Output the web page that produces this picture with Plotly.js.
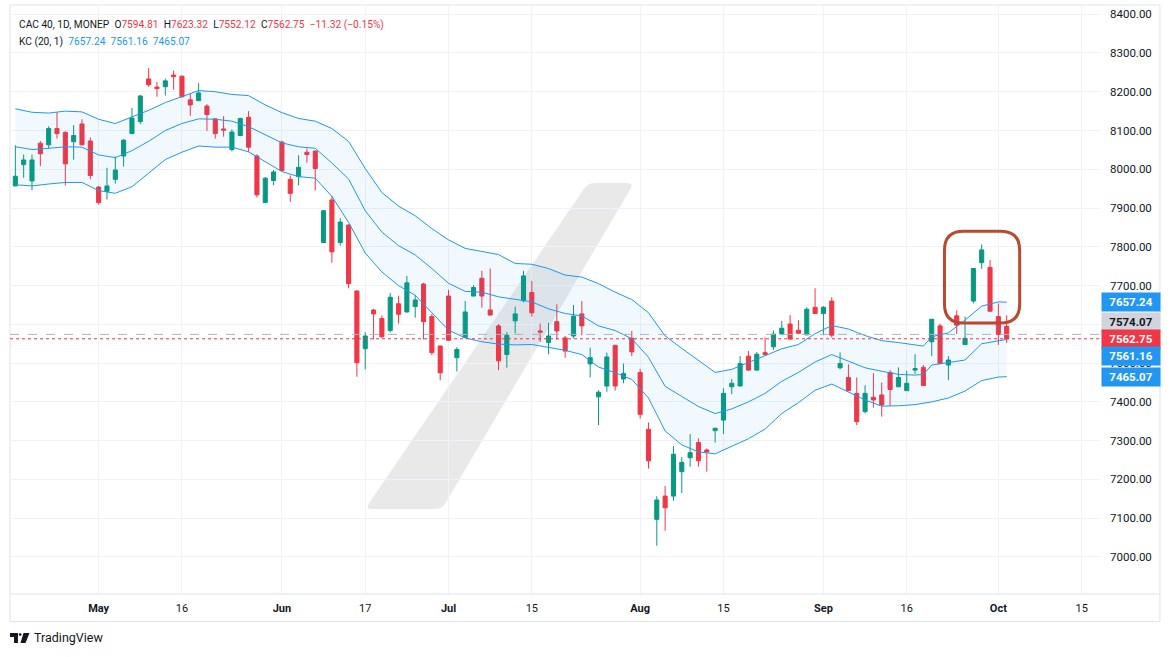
<!DOCTYPE html>
<html>
<head>
<meta charset="utf-8">
<script src="https://cdn.plot.ly/plotly-3.0.1.min.js"></script>
<style>
  html, body { margin: 0; padding: 0; background: #fff; }
  #chart { width: 1171px; height: 657px; }
</style>
</head>
<body>
<div id="chart"></div>
<script>
// CAC 40 daily, 17 Apr - 2 Oct 2024 (trading days only)
var dates = [
  '2024-04-17','2024-04-18','2024-04-19','2024-04-22','2024-04-23','2024-04-24','2024-04-25','2024-04-26','2024-04-29','2024-04-30',
  '2024-05-02','2024-05-03','2024-05-06','2024-05-07','2024-05-08','2024-05-09','2024-05-10','2024-05-13','2024-05-14','2024-05-15',
  '2024-05-16','2024-05-17','2024-05-20','2024-05-21','2024-05-22','2024-05-23','2024-05-24','2024-05-27','2024-05-28','2024-05-29',
  '2024-05-30','2024-05-31','2024-06-03','2024-06-04','2024-06-05','2024-06-06','2024-06-07','2024-06-10','2024-06-11','2024-06-12',
  '2024-06-13','2024-06-14','2024-06-17','2024-06-18','2024-06-19','2024-06-20','2024-06-21','2024-06-24','2024-06-25','2024-06-26',
  '2024-06-27','2024-06-28','2024-07-01','2024-07-02','2024-07-03','2024-07-04','2024-07-05','2024-07-08','2024-07-09','2024-07-10',
  '2024-07-11','2024-07-12','2024-07-15','2024-07-16','2024-07-17','2024-07-18','2024-07-19','2024-07-22','2024-07-23','2024-07-24',
  '2024-07-25','2024-07-26','2024-07-29','2024-07-30','2024-07-31','2024-08-01','2024-08-02','2024-08-05','2024-08-06','2024-08-07',
  '2024-08-08','2024-08-09','2024-08-12','2024-08-13','2024-08-14','2024-08-15','2024-08-16','2024-08-19','2024-08-20','2024-08-21',
  '2024-08-22','2024-08-23','2024-08-26','2024-08-27','2024-08-28','2024-08-29','2024-08-30','2024-09-02','2024-09-03','2024-09-04',
  '2024-09-05','2024-09-06','2024-09-09','2024-09-10','2024-09-11','2024-09-12','2024-09-13','2024-09-16','2024-09-17','2024-09-18',
  '2024-09-19','2024-09-20','2024-09-23','2024-09-24','2024-09-25','2024-09-26','2024-09-27','2024-09-30','2024-10-01','2024-10-02'
];

var open = [
  7957,8012,7970,8067,8063,8105,8095,8071,8117,8073,
  7954,7943,7974,8034,8092,8123,8233,8212,8213,8243,
  8240,8179,8177,8163,8130,8104,8051,8087,8134,8034,
  7914,7971,8070,7974,7981,8044,8047,7811,7921,7811,
  7856,7686,7537,7637,7615,7584,7653,7632,7646,7704,
  7620,7544,7673,7514,7566,7673,7719,7637,7596,7522,
  7609,7661,7682,7583,7553,7607,7565,7570,7627,7498,
  7413,7441,7546,7459,7564,7476,7329,7097,7157,7157,
  7220,7256,7295,7276,7326,7353,7439,7441,7518,7482,
  7527,7542,7575,7601,7585,7573,7644,7628,7660,7488,
  7463,7422,7375,7412,7418,7476,7439,7429,7482,7489,
  7555,7596,7495,7622,7548,7660,7759,7747,7620,7594.81
];
var high = [
  8062,8038,8038,8073,8111,8147,8098,8114,8129,8082,
  7957,8004,8033,8078,8158,8192,8261,8225,8234,8254,
  8242,8195,8222,8168,8131,8137,8103,8133,8150,8039,
  7980,7998,8074,7984,8036,8054,8048,7895,7931,7874,
  7858,7688,7580,7640,7623,7681,7674,7725,7676,7707,
  7627,7545,7689,7541,7660,7701,7738,7744,7601,7580,
  7646,7738,7712,7602,7604,7652,7570,7650,7660,7540,
  7430,7527,7547,7499,7583,7485,7347,7157,7183,7286,
  7258,7317,7306,7280,7333,7435,7459,7518,7531,7529,
  7566,7584,7609,7624,7611,7644,7693,7647,7670,7528,
  7497,7463,7443,7474,7450,7482,7489,7480,7523,7495,
  7614,7602,7518,7636,7620,7745,7806,7766,7654,7623.32
];
var low = [
  7957,7978,7946,8008,8053,8079,7958,8025,8062,7974,
  7909,7922,7963,8007,8092,8116,8213,8187,8190,8205,
  8185,8138,8177,8099,8079,8084,8046,8085,8044,7927,
  7914,7959,7995,7916,7959,8017,7945,7810,7759,7803,
  7693,7465,7484,7561,7565,7579,7602,7630,7617,7561,
  7521,7456,7558,7478,7565,7672,7643,7623,7482,7488,
  7577,7657,7620,7555,7523,7560,7514,7564,7572,7463,
  7340,7426,7429,7448,7518,7357,7228,7029,7068,7145,
  7165,7233,7233,7220,7295,7317,7420,7440,7480,7481,
  7521,7534,7574,7561,7576,7572,7627,7572,7566,7484,
  7428,7340,7370,7385,7362,7389,7438,7428,7472,7441,
  7518,7498,7456,7575,7547,7654,7743,7632,7547,7552.12
];
var close = [
  7982,8024,8024,8040,8105,8092,8014,8087,8063,7984,
  7914,7957,7998,8075,8132,8189,8218,8208,8228,8239,
  8187,8166,8197,8141,8092,8101,8096,8131,8057,7934,
  7977,7993,7997,7938,8005,8038,8002,7893,7787,7864,
  7705,7501,7570,7627,7568,7670,7626,7707,7663,7607,
  7527,7475,7559,7535,7632,7695,7673,7624,7506,7572,
  7627,7725,7630,7580,7570,7583,7531,7621,7596,7514,
  7425,7516,7441,7473,7529,7368,7248,7147,7127,7265,
  7244,7269,7248,7271,7332,7422,7448,7499,7482,7523,
  7522,7575,7590,7562,7577,7639,7628,7644,7572,7499,
  7429,7349,7422,7405,7392,7432,7463,7448,7486,7442,
  7613,7499,7508,7598,7564,7744,7792,7634,7574.07,7562.75
];

// Keltner channel (20, 1) read at every second bar
var kcIdx = [0,2,4,6,8,10,12,14,16,18,20,22,24,26,28,30,32,34,36,38,40,42,44,46,48,50,52,54,56,58,
  60,62,64,66,68,70,72,74,76,78,80,82,84,86,88,90,92,94,96,98,100,102,104,106,108,109,110,112,114,116,118,119];
var kcUpper = [8156,8147,8145,8150,8148,8129,8118,8135,8152,8172,8188,8203,8200,8193,8190,8166,8146,8131,8124,8105,
  8072,8002,7940,7905,7880,7847,7818,7796,7788,7780,7757,7755,7744,7727,7722,7705,7683,7664,7630,7570,
  7538,7506,7476,7484,7501,7520,7537,7548,7576,7597,7588,7571,7558,7553,7546,7544,7568,7578,7611,7647,7658,7657.24];
var kcMid = [8058,8051,8054,8058,8057,8037,8030,8048,8072,8100,8118,8130,8129,8124,8110,8088,8068,8058,8054,8016,
  7975,7893,7838,7803,7779,7744,7706,7685,7683,7671,7664,7658,7640,7628,7622,7596,7584,7563,7515,7440,
  7414,7388,7370,7382,7400,7422,7453,7476,7503,7522,7505,7488,7479,7471,7469,7471,7495,7501,7508,7550,7558,7561.16];
var kcLower = [7960,7957,7962,7966,7966,7945,7938,7955,7990,8025,8044,8060,8057,8057,8045,8020,7994,7981,7977,7930,
  7863,7784,7735,7700,7675,7630,7585,7565,7555,7549,7547,7548,7540,7533,7522,7490,7475,7458,7410,7325,
  7289,7271,7266,7285,7305,7330,7370,7398,7430,7446,7426,7405,7389,7390,7393,7396,7400,7410,7428,7455,7464,7465.07];

var tickDates = ['2024-05-02','2024-05-16','2024-06-03','2024-06-17','2024-07-01','2024-07-15',
  '2024-08-01','2024-08-15','2024-09-02','2024-09-16','2024-10-01','2024-10-15'];
var tickLabels = ['<b>May</b>','16','<b>Jun</b>','17','<b>Jul</b>','15','<b>Aug</b>','15','<b>Sep</b>','16','<b>Oct</b>','15'];

var GREEN = '#089981', RED = '#F23645', BLUE = '#2196F3', TXT = '#131722';
var FONT = 'Roboto, Arial, sans-serif';

var kcX = kcIdx.map(function (i) { return dates[i]; });
var n = close.length;
var last = n - 1;
var prevClose = close[last - 1];
var chg = close[last] - prevClose;
var chgPct = chg / prevClose * 100;

// pixel -> paper helpers for decorations (plot area 10..1100 x 5..594)
function pxX(x) { return ((x - 10) / 1090).toFixed(4); }
function pxY(y) { return ((594 - y) / 589).toFixed(4); }
// closed polygon with rounded corners, points in pixels
function roundPoly(pts, r) {
  var d = '';
  var m = pts.length;
  for (var i = 0; i < m; i++) {
    var p = pts[i], a = pts[(i + m - 1) % m], b = pts[(i + 1) % m];
    var la = Math.hypot(a[0] - p[0], a[1] - p[1]), lb = Math.hypot(b[0] - p[0], b[1] - p[1]);
    var s = [p[0] + (a[0] - p[0]) * r / la, p[1] + (a[1] - p[1]) * r / la];
    var e = [p[0] + (b[0] - p[0]) * r / lb, p[1] + (b[1] - p[1]) * r / lb];
    d += (i ? ' L' : 'M') + pxX(s[0]) + ',' + pxY(s[1]) +
      ' Q' + pxX(p[0]) + ',' + pxY(p[1]) + ' ' + pxX(e[0]) + ',' + pxY(e[1]);
  }
  return d + ' Z';
}
function poly(pts) {
  return pts.map(function (p, i) { return (i ? 'L' : 'M') + pxX(p[0]) + ',' + pxY(p[1]); }).join(' ') + ' Z';
}

var upperTrace = {
  x: kcX, y: kcUpper, type: 'scatter', mode: 'lines',
  line: { color: BLUE, width: 1 }, hoverinfo: 'skip'
};
var lowerTrace = {
  x: kcX, y: kcLower, type: 'scatter', mode: 'lines', fill: 'tonexty',
  fillcolor: 'rgba(33,150,243,0.06)',
  line: { color: BLUE, width: 1 }, hoverinfo: 'skip'
};
var midTrace = {
  x: kcX, y: kcMid, type: 'scatter', mode: 'lines',
  line: { color: BLUE, width: 1 }, hoverinfo: 'skip'
};
var candles = {
  x: dates, open: open, high: high, low: low, close: close,
  type: 'candlestick', whiskerwidth: 0,
  increasing: { line: { color: GREEN, width: 1 }, fillcolor: GREEN },
  decreasing: { line: { color: RED, width: 1 }, fillcolor: RED }
};

function priceTag(val, bg, fg, shift) {
  return {
    xref: 'paper', yref: 'y', x: 1.001, y: val, xanchor: 'left', yanchor: 'middle',
    yshift: shift || 0, text: '<b>' + val.toFixed(2) + '</b>', showarrow: false,
    bgcolor: bg, width: 56, height: 16, align: 'center',
    font: { family: FONT, size: 11.5, color: fg }
  };
}

var SP = '\u2002';
var header1 = 'CAC 40, 1D, MONEP' + SP + 'O<span style="color:' + RED + '">' + open[last].toFixed(2) + '</span>' +
  SP + 'H<span style="color:' + RED + '">' + high[last].toFixed(2) + '</span>' +
  SP + 'L<span style="color:' + RED + '">' + low[last].toFixed(2) + '</span>' +
  SP + 'C<span style="color:' + RED + '">' + close[last].toFixed(2) + '</span>' +
  SP + '<span style="color:' + RED + '">\u2212' + Math.abs(chg).toFixed(2) +
  ' (\u2212' + Math.abs(chgPct).toFixed(2) + '%)</span>';
var header2 = 'KC (20, 1)' + SP + '<span style="color:' + BLUE + '">' + kcUpper[kcUpper.length - 1].toFixed(2) +
  SP + kcMid[kcMid.length - 1].toFixed(2) + SP + kcLower[kcLower.length - 1].toFixed(2) + '</span>';

var layout = {
  width: 1171, height: 657,
  margin: { l: 10, r: 71, t: 5, b: 63 },
  paper_bgcolor: '#ffffff', plot_bgcolor: '#ffffff',
  showlegend: false,
  xaxis: {
    type: 'date',
    range: ['2024-04-16 08:38', '2024-10-17 04:48'],
    rangebreaks: [{ bounds: ['sat', 'mon'] }, { values: ['2024-05-01'] }],
    rangeslider: { visible: false },
    tickmode: 'array', tickvals: tickDates, ticktext: tickLabels,
    showgrid: true, gridcolor: '#eff2f7', gridwidth: 1,
    zeroline: false, showline: false, ticks: '',
    ticklabelstandoff: 6,
    tickfont: { family: FONT, size: 11, color: TXT }
  },
  yaxis: {
    side: 'right', range: [6904.5, 8423.7],
    tickmode: 'linear', tick0: 7000, dtick: 100, tickformat: '.2f',
    showgrid: true, gridcolor: '#eff2f7', gridwidth: 1,
    zeroline: false, showline: false, ticks: '',
    ticklabelstandoff: 9,
    tickfont: { family: FONT, size: 11.5, color: TXT }
  },
  shapes: [
    // frame
    { type: 'rect', xref: 'paper', yref: 'paper', x0: 0, x1: pxX(1160), y0: pxY(621.5), y1: 1,
      line: { color: '#e0e3eb', width: 1 }, layer: 'below' },
    { type: 'line', xref: 'paper', yref: 'paper', x0: 0, x1: pxX(1160), y0: 0, y1: 0,
      line: { color: '#e0e3eb', width: 1 } },
    // watermark
    { type: 'path', xref: 'paper', yref: 'paper', layer: 'below',
      path: roundPoly([[588, 183], [634, 183], [442, 509], [365, 509]], 7),
      fillcolor: 'rgba(0,0,0,0.085)', line: { width: 0 } },
    // last / previous close lines
    { type: 'line', xref: 'paper', yref: 'y', x0: 0, x1: 1, y0: prevClose, y1: prevClose,
      line: { color: '#b2b5be', width: 1, dash: 'dash' } },
    { type: 'line', xref: 'paper', yref: 'y', x0: 0, x1: 1, y0: close[last], y1: close[last],
      line: { color: RED, width: 1, dash: 'dot' } },
    // highlight box
    { type: 'path', xref: 'paper', yref: 'paper',
      path: roundPoly([[944.5, 231.3], [1019.7, 231.3], [1019.7, 323], [944.5, 323]], 19),
      line: { color: '#b9492f', width: 3 }, fillcolor: 'rgba(0,0,0,0)' },
    // logo
    { type: 'path', xref: 'paper', yref: 'paper', path: poly([[10, 633], [18, 633], [18, 643], [14, 643], [14, 637], [10, 637]]),
      fillcolor: TXT, line: { width: 0 } },
    { type: 'circle', xref: 'paper', yref: 'paper', x0: pxX(18.8), x1: pxX(21.6), y0: pxY(633.2), y1: pxY(636),
      fillcolor: TXT, line: { width: 0 } },
    { type: 'path', xref: 'paper', yref: 'paper', path: poly([[23.5, 633], [29.5, 633], [25.5, 643], [20.5, 643]]),
      fillcolor: TXT, line: { width: 0 } }
  ],
  annotations: [
    { xref: 'paper', yref: 'paper', x: pxX(17), y: pxY(25), xanchor: 'left', yanchor: 'middle',
      text: header1, showarrow: false, font: { family: FONT, size: 10.2, color: TXT } },
    { xref: 'paper', yref: 'paper', x: pxX(17), y: pxY(42), xanchor: 'left', yanchor: 'middle',
      text: header2, showarrow: false, font: { family: FONT, size: 10.2, color: TXT } },
    { xref: 'paper', yref: 'paper', x: pxX(32), y: pxY(638), xanchor: 'left', yanchor: 'middle',
      text: 'TradingView', showarrow: false, font: { family: FONT, size: 12.5, color: TXT } },
    priceTag(kcUpper[kcUpper.length - 1], BLUE, '#ffffff', 0),
    priceTag(prevClose, '#d1d4dc', TXT, 12),
    priceTag(close[last], RED, '#ffffff', 0),
    priceTag(kcMid[kcMid.length - 1], BLUE, '#ffffff', -16.5),
    priceTag(kcLower[kcLower.length - 1], BLUE, '#ffffff', 0)
  ]
};

Plotly.newPlot('chart', [upperTrace, lowerTrace, midTrace, candles], layout, { displayModeBar: false, staticPlot: true });
</script>
</body>
</html>
